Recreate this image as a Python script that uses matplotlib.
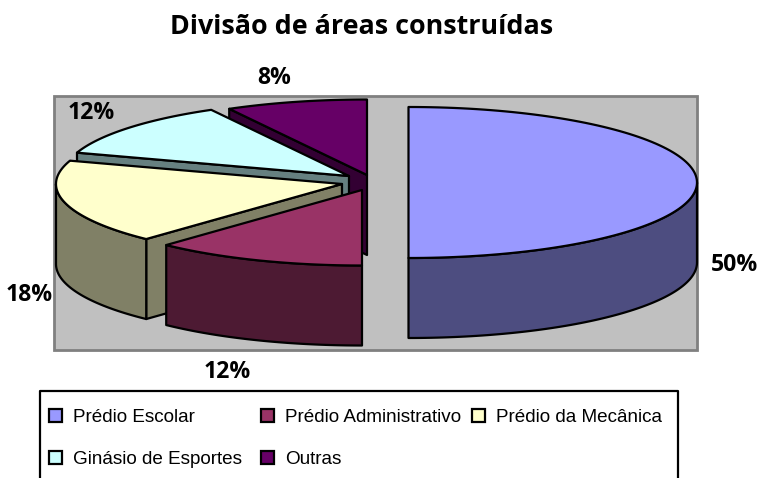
import numpy as np
import matplotlib
matplotlib.use("Agg")
import matplotlib.pyplot as plt
from matplotlib.patches import Polygon, Rectangle

title = "Divisão de áreas construídas"
categories = ["Prédio Escolar", "Prédio Administrativo", "Prédio da Mecânica",
              "Ginásio de Esportes", "Outras"]
values = [50, 12, 18, 12, 8]
top_colors = ["#9999FF", "#993366", "#FFFFCC", "#CCFFFF", "#660066"]
side_colors = ["#4D4D80", "#4D1A33", "#808066", "#668080", "#330033"]
# exploded centre and horizontal radius of every slice on the page (pixels)
centres = [(408.5, 182.5), (362, 190), (342, 184), (349, 176), (367, 175)]
radii_x = [288.5, 286, 286, 286, 286]
label_pos = [(734, 265), (227, 372), (29, 295), (91, 113), (274, 78)]

RY, DEPTH = 75.5, 80

fig = plt.figure(figsize=(7.59, 4.78), dpi=100)
ax = fig.add_axes([0, 0, 1, 1])
ax.set_xlim(0, 759)
ax.set_ylim(478, 0)
ax.axis("off")

ax.add_patch(Rectangle((54, 95.5), 643, 254, fc="#C0C0C0", ec="#808080", lw=2, zorder=0))


def rim(c, rx, th):
    th = np.radians(th)
    return np.column_stack([c[0] + rx * np.sin(th), c[1] - RY * np.cos(th)])


def face(pts, color, z):
    ax.add_patch(Polygon(pts, closed=True, fc=color, ec="black", lw=1.6,
                         joinstyle="round", zorder=z))


edges = np.concatenate([[0], np.cumsum(values)]) / np.sum(values) * 360
down = np.array([0, DEPTH])
for i in [4, 3, 2, 1, 0]:
    z = 5 - i
    c = np.array(centres[i])
    rx = radii_x[i]
    a0, a1 = edges[i], edges[i + 1]
    if 180 < a0 < 360:   # cut face on the starting edge faces the viewer
        p = rim(c, rx, [a0])[0]
        face([c, p, p + down, c + down], side_colors[i], z)
    if 0 < a1 < 180:     # cut face on the closing edge faces the viewer
        p = rim(c, rx, [a1])[0]
        face([c, p, p + down, c + down], side_colors[i], z)
    lo, hi = max(a0, 90), min(a1, 270)
    if lo < hi:          # front of the outer wall
        arc = rim(c, rx, np.linspace(lo, hi, 80))
        face(np.vstack([arc, (arc + down)[::-1]]), side_colors[i], z)
    arc = rim(c, rx, np.linspace(a0, a1, 120))
    face(np.vstack([c, arc]), top_colors[i], z)

ax.text(362, 26.5, title, family="Open Sans", weight="bold", fontsize=19.4,
        ha="center", va="center", color="black")
for (x, y), v in zip(label_pos, values):
    ax.text(x, y, f"{v}%", family="Open Sans", weight="bold", fontsize=16.6,
            ha="center", va="center", color="black", zorder=10)

# legend box is cut by the lower edge of the image
ax.plot([40, 40, 678, 678], [478, 391, 391, 478], color="black", lw=1.6, zorder=1)
legend_x = [49, 261, 472, 49, 261]
legend_y = [416, 416, 416, 458, 458]
for name, col, x, y in zip(categories, top_colors, legend_x, legend_y):
    ax.add_patch(Rectangle((x, y - 7), 13, 13, fc=col, ec="black", lw=1.6, zorder=2))
    ax.text(x + 24, y + 1.5, name, family="Liberation Sans", fontsize=13.6,
            ha="left", va="center", color="black", zorder=2)

fig.savefig("out.png", dpi=100)
